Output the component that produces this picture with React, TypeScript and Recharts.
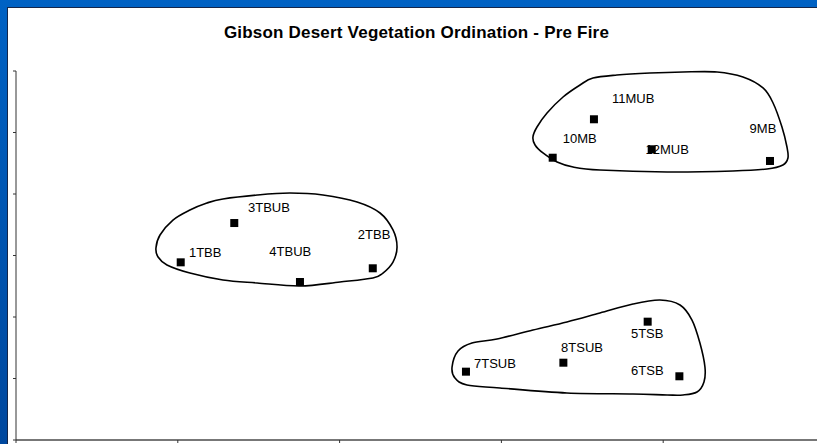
import React from "react";
import { ScatterChart, Scatter, XAxis, YAxis } from "recharts";

// ordination scores
const sites = ["1TBB", "2TBB", "3TBUB", "4TBUB", "5TSB", "6TSB", "7TSUB", "8TSUB", "9MB", "10MB", "11MUB", "12MUB"];
const axis1 = [1.018, 2.205, 1.349, 1.755, 3.904, 4.1, 2.781, 3.383, 4.66, 3.317, 3.572, 3.929];
const axis2 = [2.889, 2.792, 3.528, 2.569, 1.924, 1.036, 1.111, 1.257, 4.537, 4.59, 5.215, 4.727];

const xTicks = [0, 1, 2, 3, 4, 5];
const yTicks = [0, 1, 2, 3, 4, 5, 6];

// hand drawn group outlines, in axis units
const hullTB: [number, number][] = [
  [0.865, 3.122], [0.89, 3.333], [0.97, 3.577], [1.075, 3.74], [1.18, 3.854], [1.279, 3.919],
  [1.49, 3.984], [1.693, 4.016], [1.897, 3.984], [2.108, 3.87], [2.25, 3.691], [2.33, 3.415],
  [2.355, 3.138], [2.33, 2.894], [2.268, 2.715], [2.206, 2.634], [2.002, 2.569], [1.755, 2.504],
  [1.49, 2.553], [1.279, 2.602], [1.075, 2.715], [0.933, 2.846], [0.878, 2.976],
];
const hullM: [number, number][] = [
  [3.195, 4.927], [3.22, 5.089], [3.282, 5.317], [3.381, 5.577], [3.486, 5.772], [3.566, 5.886],
  [3.714, 5.935], [3.918, 5.967], [4.122, 5.984], [4.333, 5.984], [4.493, 5.902], [4.617, 5.724],
  [4.679, 5.48], [4.734, 5.089], [4.765, 4.764], [4.771, 4.585], [4.74, 4.472], [4.642, 4.407],
  [4.431, 4.374], [4.024, 4.358], [3.609, 4.39], [3.443, 4.439], [3.344, 4.52], [3.257, 4.667],
  [3.208, 4.797],
];
const hullTS: [number, number][] = [
  [2.695, 1.187], [2.732, 1.447], [2.818, 1.577], [2.973, 1.642], [3.195, 1.789], [3.405, 1.919],
  [3.609, 2.065], [3.813, 2.211], [3.98, 2.276], [4.104, 2.195], [4.178, 1.951], [4.227, 1.577],
  [4.258, 1.187], [4.252, 0.943], [4.209, 0.78], [4.122, 0.732], [4.024, 0.732], [3.813, 0.748],
  [3.405, 0.764], [2.991, 0.846], [2.787, 0.894], [2.713, 1.008],
];

// label placement relative to the marker (px)
const labelShift: Record<string, [number, number]> = {
  "1TBB": [24.5, -5.1],
  "2TBB": [1.3, -29.1],
  "3TBUB": [34.7, -11.1],
  "4TBUB": [-9.7, -25.6],
  "5TSB": [-0.5, 16],
  "6TSB": [-32, -0.9],
  "7TSUB": [29, -3.7],
  "8TSUB": [18.7, -10.3],
  "9MB": [-7, -28.3],
  "10MB": [27, -15],
  "11MUB": [39.3, -15.8],
  "12MUB": [15.5, 5.1],
};

const siteData = sites.map((name, i) => ({ name, x: axis1[i], y: axis2[i] }));
const toPts = (h: [number, number][]) => h.map(([x, y]) => ({ x, y }));

const FONT = "'Liberation Sans', Arial, sans-serif";

function SiteMark(props: any) {
  const { cx, cy, payload } = props;
  const [dx, dy] = labelShift[payload.name] ?? [10, -10];
  return (
    <g>
      <text x={cx + dx} y={cy + dy} textAnchor="middle" fontSize={13} fontFamily={FONT} fill="#000">
        {payload.name}
      </text>
      <rect x={cx - 4} y={cy - 4} width={8} height={8} fill="#000" />
    </g>
  );
}

// closed catmull-rom through the outline points
function closedCurve(props: any) {
  const pts: { x: number; y: number }[] = props.points || [];
  const n = pts.length;
  if (n < 3) return <g />;
  let d = `M${pts[0].x},${pts[0].y}`;
  for (let i = 0; i < n; i++) {
    const p0 = pts[(i - 1 + n) % n];
    const p1 = pts[i];
    const p2 = pts[(i + 1) % n];
    const p3 = pts[(i + 2) % n];
    const c1x = p1.x + (p2.x - p0.x) / 6;
    const c1y = p1.y + (p2.y - p0.y) / 6;
    const c2x = p2.x - (p3.x - p1.x) / 6;
    const c2y = p2.y - (p3.y - p1.y) / 6;
    d += ` C${c1x},${c1y} ${c2x},${c2y} ${p2.x},${p2.y}`;
  }
  return <path d={d + " Z"} fill="none" stroke="#000" strokeWidth={1.6} />;
}

const noDot = () => <g />;
const noTick = () => <g />;

export default function App() {
  return (
    <div
      style={{
        position: "fixed",
        left: 0,
        top: 0,
        width: 817,
        height: 444,
        overflow: "hidden",
        background: "linear-gradient(#0062c4, #00489e)",
      }}
    >
      <div
        style={{
          position: "absolute",
          left: 7,
          top: 7,
          width: 840,
          height: 460,
          background: "#fff",
          borderTop: "1px solid #14264a",
          borderLeft: "1px solid #14264a",
        }}
      />
      <div
        style={{
          position: "absolute",
          left: 0,
          top: 24,
          width: 833,
          textAlign: "center",
          fontFamily: FONT,
          fontWeight: "bold",
          fontSize: 17,
          lineHeight: "17px",
          letterSpacing: 0.2,
          color: "#000",
        }}
      >
        Gibson Desert Vegetation Ordination - Pre Fire
      </div>
      <div style={{ position: "absolute", left: 0, top: 0 }}>
        <ScatterChart width={825} height={460} margin={{ top: 71, right: 0, bottom: 0, left: 0 }}>
          <XAxis
            type="number"
            dataKey="x"
            domain={[0, 5]}
            ticks={xTicks}
            tick={noTick}
            tickSize={3}
            height={20}
            axisLine={{ stroke: "#777", strokeWidth: 2 }}
            tickLine={{ stroke: "#333" }}
          />
          <YAxis
            type="number"
            dataKey="y"
            domain={[0, 6]}
            ticks={yTicks}
            tick={noTick}
            tickSize={3}
            width={16}
            axisLine={{ stroke: "#333" }}
            tickLine={{ stroke: "#333" }}
          />
          <Scatter data={toPts(hullTB)} shape={noDot} line={closedCurve} isAnimationActive={false} />
          <Scatter data={toPts(hullM)} shape={noDot} line={closedCurve} isAnimationActive={false} />
          <Scatter data={toPts(hullTS)} shape={noDot} line={closedCurve} isAnimationActive={false} />
          <Scatter data={siteData} shape={SiteMark} isAnimationActive={false} />
        </ScatterChart>
      </div>
    </div>
  );
}
